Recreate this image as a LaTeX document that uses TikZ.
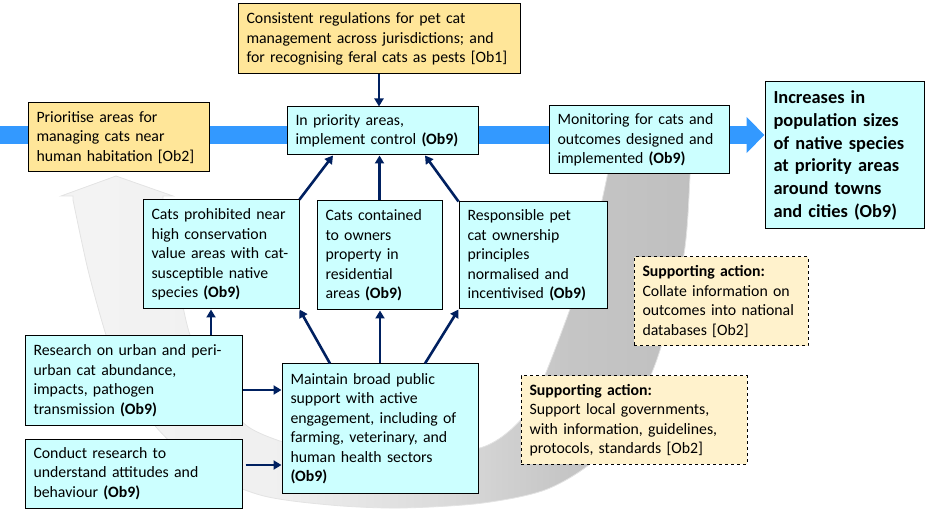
\documentclass[tikz,border=0pt]{standalone}
\usepackage{fontspec}
\setmainfont{Carlito}
\usepackage{xcolor}
\usetikzlibrary{arrows.meta,backgrounds}

\definecolor{govfill}{HTML}{FFE699}
\definecolor{actfill}{HTML}{CCFFFF}
\definecolor{suppfill}{HTML}{FFF2CC}
\definecolor{flowblue}{HTML}{3399FF}
\definecolor{arrnavy}{HTML}{002060}
\pgfdeclarehorizontalshading{loopshade}{100bp}{color(0bp)=(gray!9); color(25bp)=(gray!9); color(42bp)=(gray!12); color(55bp)=(gray!28); color(65bp)=(gray!45); color(75bp)=(gray!50); color(100bp)=(gray!50)}

\begin{document}
\begin{tikzpicture}[x=1pt,y=-1pt,
	box/.style={draw,line width=1pt,inner xsep=8.5pt,inner ysep=0pt,align=left,font=\fontsize{15.8}{19.5}\selectfont},
	govbox/.style={box,fill=govfill},
	actbox/.style={box,fill=actfill},
	suppbox/.style={box,fill=suppfill,dashed},
	arr/.style={draw=arrnavy,line width=2.6pt,-{Triangle[length=8pt,width=9pt]}}]
	\useasboundingbox (0,0) rectangle (929,518);
	
	% top row
	\node[govbox,text width=265pt,minimum height=70pt] (regs) at (379,39) {Consistent regulations for pet cat\\management across jurisdictions; and\\for recognising feral cats as pests [Ob1]};
	\node[govbox,text width=164pt,minimum height=69pt] (prio) at (118.5,137.5) {Prioritise areas for\\managing cats near\\human habitation [Ob2]};
	\node[actbox,text width=174pt,minimum height=48pt] (ctrl) at (382.5,131) {In priority areas,\\implement control \textbf{(Ob9)}};
	\node[actbox,text width=163pt,minimum height=68pt] (monitor) at (639,140) {Monitoring for cats and\\outcomes designed and\\implemented \textbf{(Ob9)}};
	\node[actbox,text width=142pt,minimum height=147pt,font=\fontsize{18.4}{22.8}\selectfont\bfseries] (outcome) at (844.5,155.5) {Increases in\\population sizes\\of native species\\at priority areas\\around towns\\and cities (Ob9)};
	
	% middle row
	\node[actbox,text width=139pt,minimum height=109pt] (prohibit) at (221,254.5) {Cats prohibited near\\high conservation\\value areas with cat-\\susceptible native\\species \textbf{(Ob9)}};
	\node[actbox,text width=108pt,minimum height=109pt] (contain) at (379.5,255.5) {Cats contained\\to owners\\property in\\residential\\areas \textbf{(Ob9)}};
	\node[actbox,text width=131pt,minimum height=107pt] (owner) at (533,255.5) {Responsible pet\\cat ownership\\principles\\normalised and\\incentivised \textbf{(Ob9)}};
	
	% bottom row
	\node[actbox,text width=200pt,minimum height=89pt] (research) at (133.5,380.5) {Research on urban and peri-\\urban cat abundance,\\impacts, pathogen\\transmission \textbf{(Ob9)}};
	\node[actbox,text width=200pt,minimum height=69pt] (attitude) at (133.5,473.5) {Conduct research to\\understand attitudes and\\behaviour \textbf{(Ob9)}};
	\node[actbox,text width=179pt,minimum height=129pt] (support) at (380,428.5) {Maintain broad public\\support with active\\engagement, including of\\farming, veterinary, and\\human health sectors\\\textbf{(Ob9)}};
	
	% supporting actions
	\node[suppbox,text width=157pt,minimum height=89pt] (collate) at (721,301.5) {\textbf{Supporting action:}\\Collate information on\\outcomes into national\\databases [Ob2]};
	\node[suppbox,text width=209pt,minimum height=88pt] (localgov) at (634,420) {\textbf{Supporting action:}\\Support local governments,\\with information, guidelines,\\protocols, standards [Ob2]};
	
	% background arrows
	\begin{scope}[on background layer]
		\shadedraw[shading=loopshade,draw=gray!22,line width=0.8pt]
			plot[smooth] coordinates {(690,165) (690,177) (683,260) (653,370) (605,450) (550,488) (483,503) (400,508) (330,505) (260,495) (200,468) (150,420) (120,370) (106,335) (88,270) (73,200)}
			-- (73,196) -- (61,196) -- (116,176) -- (173,196) -- (163,196)
			-- plot[smooth] coordinates {(163,200) (176,270) (190,335) (215,385) (250,428) (320,452) (400,458) (483,447) (525,415) (547,370) (587,260) (607,177) (607,165)}
			-- cycle;
		\coordinate (flowstart) at (0,135);
		\draw[flowblue,line width=18pt,-{Triangle[length=18pt,width=35pt]}] (flowstart) -- (flowstart -| outcome.west);
	\end{scope}
	
	% connectors
	\draw[arr] (regs.south) -- (regs.south |- ctrl.north);
	\draw[arr] (prohibit.north east) -- ([xshift=-49.5pt]ctrl.south);
	\draw[arr] (contain.north) -- (contain.north |- ctrl.south);
	\draw[arr] (owner.north west) -- ([xshift=42.5pt]ctrl.south);
	\draw[arr] ([xshift=77.5pt]research.north) -- ([xshift=77.5pt]research.north |- prohibit.south);
	\draw[arr] ([xshift=-50pt]support.north) -- (prohibit.south east);
	\draw[arr] (support.north) -- (support.north |- contain.south);
	\draw[arr] ([xshift=45pt]support.north) -- (owner.south west);
	\draw[arr] ([yshift=-9.5pt]research.east) -- ([yshift=-9.5pt]research.east -| support.west);
	\draw[arr] ([xshift=3pt,yshift=8.5pt]attitude.east) -- ([yshift=8.5pt]attitude.east -| support.west);
\end{tikzpicture}
\end{document}
